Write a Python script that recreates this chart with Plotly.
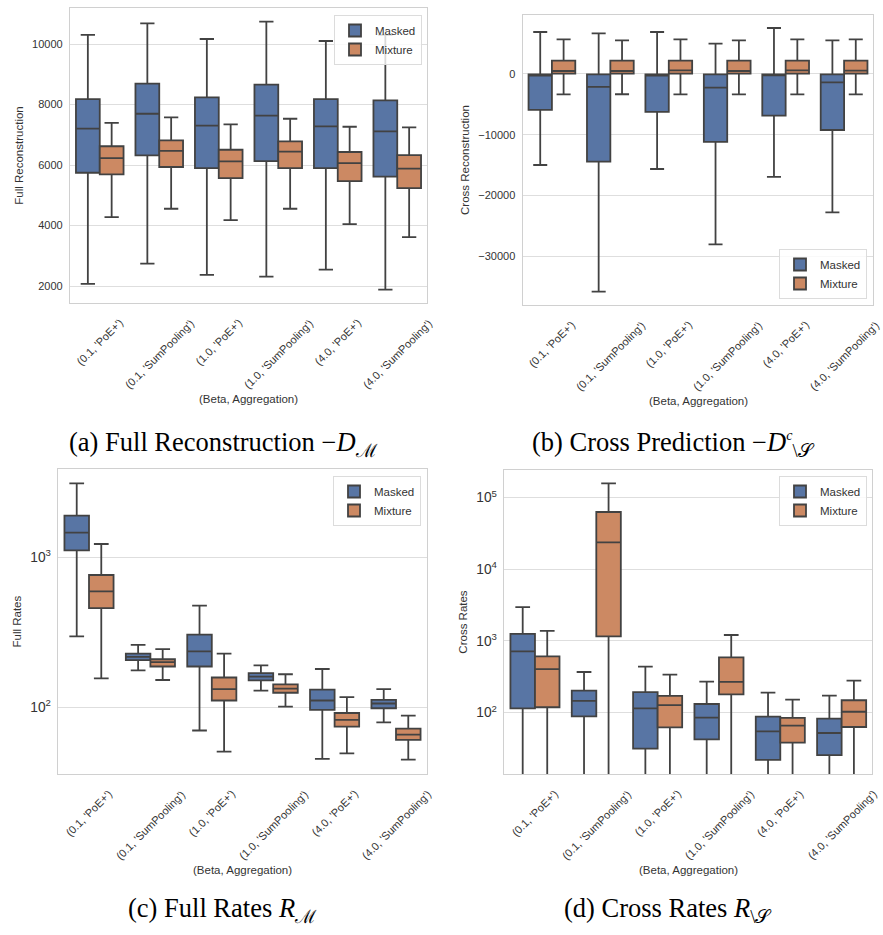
import plotly.graph_objects as go

# ---------------- data ----------------
categories = ["(0.1, 'PoE+')", "(0.1, 'SumPooling')", "(1.0, 'PoE+')",
              "(1.0, 'SumPooling')", "(4.0, 'PoE+')", "(4.0, 'SumPooling')"]
hue_names = ["Masked", "Mixture"]

# (a) Full Reconstruction
a_masked_lo = [2070, 2740, 2370, 2310, 2540, 1880]
a_masked_q1 = [5745, 6320, 5900, 6130, 5900, 5615]
a_masked_med = [7200, 7695, 7300, 7630, 7280, 7115]
a_masked_q3 = [8180, 8690, 8235, 8655, 8180, 8135]
a_masked_hi = [10300, 10685, 10165, 10740, 10100, 10300]
a_mixture_lo = [4280, 4555, 4180, 4555, 4050, 3620]
a_mixture_q1 = [5690, 5935, 5570, 5900, 5470, 5240]
a_mixture_med = [6230, 6465, 6120, 6440, 6065, 5880]
a_mixture_q3 = [6620, 6815, 6505, 6785, 6430, 6330]
a_mixture_hi = [7390, 7575, 7345, 7530, 7265, 7245]

# (b) Cross Reconstruction
b_masked_lo = [-15000, -35870, -15660, -28070, -16970, -22790]
b_masked_q1 = [-5930, -14450, -6260, -11200, -6870, -9230]
b_masked_med = [-250, -2140, -250, -2250, -200, -1370]
b_masked_q3 = [-60, -60, -60, -60, -60, -60]
b_masked_hi = [6920, 6700, 6920, 5000, 7580, 5550]
b_mixture_lo = [-3350, -3340, -3350, -3350, -3350, -3350]
b_mixture_q1 = [60, 60, 60, 60, 60, 60]
b_mixture_med = [490, 490, 600, 490, 600, 550]
b_mixture_q3 = [2200, 2200, 2200, 2200, 2200, 2200]
b_mixture_hi = [5710, 5550, 5710, 5550, 5710, 5710]

# (c) Full Rates
c_masked_lo = [297, 176, 70, 129, 45.3, 79.4]
c_masked_q1 = [1113, 206, 187, 151, 96, 98.5]
c_masked_med = [1460, 217, 236, 160, 111, 106]
c_masked_q3 = [1896, 228, 305, 169, 131, 112]
c_masked_hi = [3114, 261, 476, 190, 180, 132]
c_mixture_lo = [156, 152, 50.6, 101, 49.3, 44.8]
c_mixture_q1 = [459, 187, 111, 125, 74.3, 60.6]
c_mixture_med = [593, 200, 132, 133, 82.4, 65.8]
c_mixture_q3 = [762, 209, 158, 142, 91.6, 72.0]
c_mixture_hi = [1227, 244, 228, 166, 117, 87.9]

# (d) Cross Rates
d_masked_lo = [1.0, 1.0, 1.0, 1.0, 1.0, 1.0]
d_masked_q1 = [115, 88.9, 31.5, 42.5, 21.9, 25.6]
d_masked_med = [717, 146, 115, 85.1, 54.9, 52.0]
d_masked_q3 = [1253, 203, 194, 132, 87.9, 82.5]
d_masked_hi = [2978, 369, 438, 271, 190, 173]
d_mixture_lo = [1.0, 1.0, 1.0, 1.0, 1.0, 1.0]
d_mixture_q1 = [119, 1161, 62.4, 180, 38.1, 63.1]
d_mixture_med = [406, 23800, 127, 268, 65.9, 103]
d_mixture_q3 = [611, 63100, 171, 592, 84.3, 149]
d_mixture_hi = [1381, 158500, 339, 1213, 152, 280]

y_titles = ["Full Reconstruction", "Cross Reconstruction", "Full Rates", "Cross Rates"]
x_title = "(Beta, Aggregation)"
captions = ["(a) Full Reconstruction −<i>D</i><sub>ℳ</sub>",
            "(b) Cross Prediction −<i>D</i><sup><span style='font-size:14px'><i>c</i></span></sup><sub>\\𝒮</sub>",
            "(c) Full Rates <i>R</i><sub>ℳ</sub>",
            "(d) Cross Rates <i>R</i><sub>\\𝒮</sub>"]

# ---------------- styling ----------------
W, H = 883, 935
FILL = {"Masked": "#5875A4", "Mixture": "#CC8963"}
EDGE = "#424242"
FRAME = "#d0d0d0"
GRID = "#dedede"
TXT = "#333333"
SANS = "Arial, Liberation Sans, Helvetica, sans-serif"
SERIF = "Liberation Serif, Times New Roman, serif"


def fx(p):
    return p / W


def fy(p):
    return 1 - p / H


# panel pixel boxes: left, right, top, bottom
boxes = [(70, 427, 8, 303), (522.7, 873.3, 15, 305),
         (58.3, 426.7, 469.3, 774), (504.3, 872.3, 470, 774)]

panel_data = [
    [(a_masked_lo, a_masked_q1, a_masked_med, a_masked_q3, a_masked_hi),
     (a_mixture_lo, a_mixture_q1, a_mixture_med, a_mixture_q3, a_mixture_hi)],
    [(b_masked_lo, b_masked_q1, b_masked_med, b_masked_q3, b_masked_hi),
     (b_mixture_lo, b_mixture_q1, b_mixture_med, b_mixture_q3, b_mixture_hi)],
    [(c_masked_lo, c_masked_q1, c_masked_med, c_masked_q3, c_masked_hi),
     (c_mixture_lo, c_mixture_q1, c_mixture_med, c_mixture_q3, c_mixture_hi)],
    [(d_masked_lo, d_masked_q1, d_masked_med, d_masked_q3, d_masked_hi),
     (d_mixture_lo, d_mixture_q1, d_mixture_med, d_mixture_q3, d_mixture_hi)],
]

y_settings = [
    dict(type="linear", range=[1440, 11190], dtick=2000, tick0=0, tickformat="d"),
    dict(type="linear", range=[-38070, 9720], dtick=10000, tick0=0, tickformat="d"),
    dict(type="log", range=[1.555, 3.587], dtick=1, exponentformat="power"),
    dict(type="log", range=[1.144, 5.386], dtick=1, exponentformat="power"),
]

legend_pos = [
    dict(x=fx(422), y=fy(15), xanchor="right", yanchor="top"),
    dict(x=fx(867), y=fy(299), xanchor="right", yanchor="bottom"),
    dict(x=fx(421), y=fy(476), xanchor="right", yanchor="top"),
    dict(x=fx(867), y=fy(476), xanchor="right", yanchor="top"),
]

caption_pos = [(223, 444), (673, 444), (222, 910), (668, 910)]

fig = go.Figure()
layout = dict(width=W, height=H, autosize=False,
              margin=dict(l=0, r=0, t=0, b=0),
              paper_bgcolor="white", plot_bgcolor="white",
              boxmode="group", boxgap=0.2, boxgroupgap=0.0,
              font=dict(family=SANS, size=11, color=TXT))
annotations = []

for i in range(4):
    sfx = "" if i == 0 else str(i + 1)
    legname = "legend" if i == 0 else "legend" + str(i + 1)
    for h, hue in enumerate(hue_names):
        lo, q1, med, q3, hi = panel_data[i][h]
        fig.add_trace(go.Box(
            x=categories, q1=q1, median=med, q3=q3,
            lowerfence=lo, upperfence=hi,
            name=hue, fillcolor=FILL[hue],
            line=dict(color=EDGE, width=1.8),
            whiskerwidth=0.6, boxpoints=False,
            alignmentgroup="panel" + str(i), offsetgroup=hue,
            xaxis="x" + sfx, yaxis="y" + sfx,
            legend=legname, showlegend=True, hoverinfo="skip"))

    l, r, t, b = boxes[i]
    layout["xaxis" + sfx] = dict(
        domain=[fx(l), fx(r)], anchor="y" + sfx, type="category",
        categoryorder="array", categoryarray=categories,
        range=[-0.5, 5.5], showticklabels=False, ticks="",
        showgrid=False, zeroline=False,
        showline=True, mirror=True, linecolor=FRAME, linewidth=1.3)
    ys = dict(y_settings[i])
    ys.update(dict(
        domain=[fy(b), fy(t)], anchor="x" + sfx,
        showgrid=True, gridcolor=GRID, gridwidth=1, zeroline=False,
        showline=True, mirror=True, linecolor=FRAME, linewidth=1.3,
        ticks="", ticklabelstandoff=4,
        tickfont=dict(family=SANS, size=11, color=TXT),
        title=dict(text=y_titles[i], standoff=6,
                   font=dict(family=SANS, size=11.5, color=TXT))))
    layout["yaxis" + sfx] = ys

    layout[legname] = dict(
        legend_pos[i], bgcolor="rgba(255,255,255,0.8)",
        bordercolor="#dcdcdc", borderwidth=1,
        font=dict(family=SANS, size=11.5, color=TXT),
        tracegroupgap=0, itemwidth=30)

    # rotated category labels, centred under each category (matplotlib style)
    for cat in categories:
        annotations.append(dict(
            x=cat, xref="x" + sfx, y=fy(b + 11), yref="paper",
            text=cat, showarrow=False, textangle=-45,
            xanchor="center", yanchor="top",
            font=dict(family=SANS, size=11, color=TXT)))
    # x-axis title
    annotations.append(dict(
        x=0.5, xref="x" + sfx + " domain", y=fy(b + 96), yref="paper",
        text=x_title, showarrow=False, xanchor="center", yanchor="middle",
        font=dict(family=SANS, size=11.5, color=TXT)))
    # caption
    cx, cy = caption_pos[i]
    annotations.append(dict(
        x=fx(cx), xref="paper", y=fy(cy), yref="paper",
        text=captions[i], showarrow=False, xanchor="center", yanchor="middle",
        font=dict(family=SERIF, size=26.5, color="black")))

layout["annotations"] = annotations
fig.update_layout(**layout)
fig.write_html("out.html",
               config={"displayModeBar": False},
               post_script="document.body.style.margin='0px';"
                           "document.body.style.overflow='hidden';")
